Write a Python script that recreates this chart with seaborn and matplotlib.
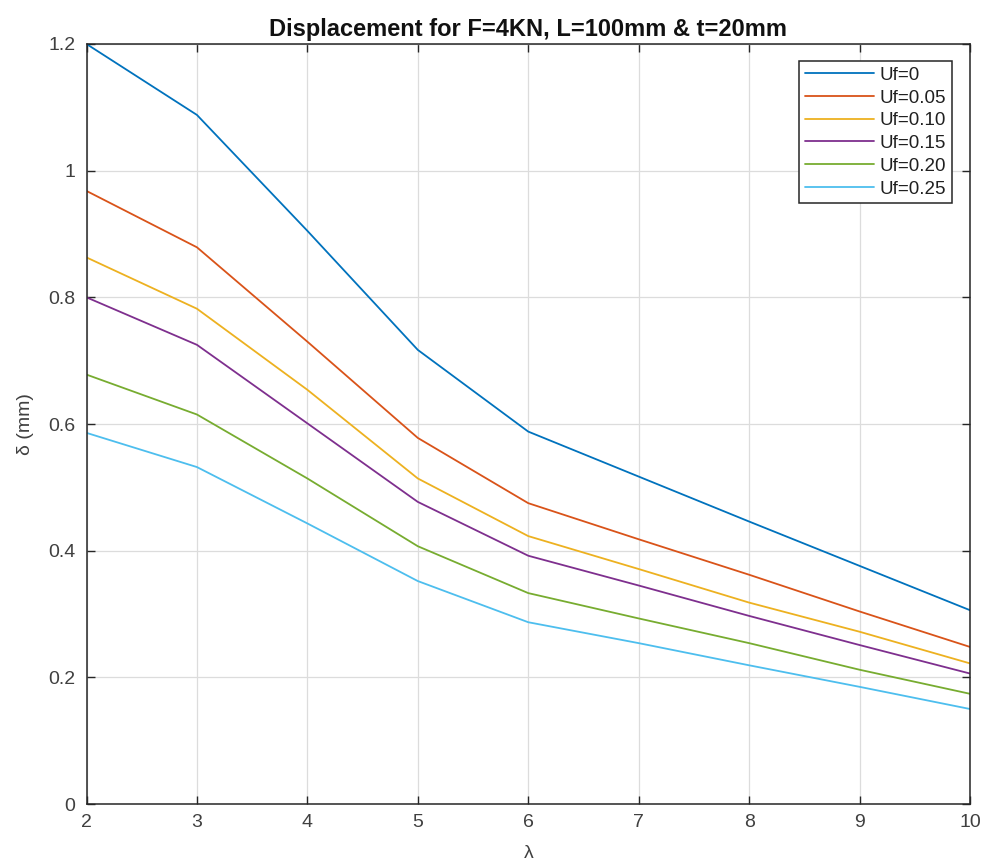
import numpy as np
import pandas as pd
import matplotlib
matplotlib.use("Agg")
import matplotlib.pyplot as plt
import seaborn as sns

lam = [2, 3, 4, 5, 6, 7, 8, 9, 10]
uf0 = [1.200, 1.088, 0.905, 0.717, 0.588, 0.517, 0.446, 0.376, 0.306]
uf005 = [0.968, 0.879, 0.730, 0.578, 0.475, 0.418, 0.362, 0.304, 0.248]
uf010 = [0.863, 0.782, 0.654, 0.514, 0.423, 0.371, 0.318, 0.272, 0.222]
uf015 = [0.800, 0.725, 0.601, 0.477, 0.392, 0.345, 0.297, 0.251, 0.206]
uf020 = [0.678, 0.615, 0.514, 0.407, 0.333, 0.293, 0.254, 0.212, 0.174]
uf025 = [0.586, 0.532, 0.443, 0.352, 0.287, 0.254, 0.219, 0.185, 0.150]
labels = ["Uf=0", "Uf=0.05", "Uf=0.10", "Uf=0.15", "Uf=0.20", "Uf=0.25"]
series = [uf0, uf005, uf010, uf015, uf020, uf025]
colors = ["#0072BD", "#D95319", "#EDB120", "#7E2F8E", "#77AC30", "#4DBEEE"]

rows = []
for lab, vals in zip(labels, series):
    for x, y in zip(lam, vals):
        rows.append({"lam": x, "delta": y, "Uf": lab})
df = pd.DataFrame(rows)

sns.set_style("white")
plt.rcParams['font.family'] = ['Liberation Sans', 'DejaVu Sans']

fig = plt.figure(figsize=(9.85, 8.63), dpi=100)
ax = fig.add_axes([86.5/985, 59/863, 883.5/985, 760/863])

sns.lineplot(data=df, x="lam", y="delta", hue="Uf", hue_order=labels,
             palette=colors, linewidth=1.3, ax=ax, legend=True)

ax.set_xlim(2, 10)
ax.set_ylim(0, 1.2)
ax.set_xticks(lam)
ax.set_xticklabels([str(v) for v in lam])
ax.set_yticks([0, 0.2, 0.4, 0.6, 0.8, 1.0, 1.2])
ax.set_yticklabels(["0", "0.2", "0.4", "0.6", "0.8", "1", "1.2"])
ax.grid(True, color="#dcdcdc", linewidth=0.9)
ax.set_axisbelow(True)
for s in ax.spines.values():
    s.set_visible(True)
    s.set_color("#262626")
    s.set_linewidth(1.1)
ax.tick_params(direction="in", length=6, width=1, colors="#262626",
               labelcolor="#404040", labelsize=14, top=True, right=True,
               bottom=True, left=True)
ax.tick_params(axis="x", pad=7.5)
ax.tick_params(axis="y", pad=8)

ax.set_xlabel("λ", fontsize=14, color="#404040", labelpad=10)
ax.set_ylabel("δ (mm)", fontsize=14, color="#404040", labelpad=10)
ax.set_title("Displacement for F=4KN, L=100mm & t=20mm", fontsize=17,
             fontweight="bold", color="#111111", pad=6)

leg = ax.legend(loc="upper right", bbox_to_anchor=(0.9796, 0.9776),
                frameon=True, fancybox=False, fontsize=13.5,
                handlelength=3.7, labelspacing=0.3, borderpad=0.3,
                handletextpad=0.3, borderaxespad=0)
leg.get_frame().set_edgecolor("#262626")
leg.get_frame().set_linewidth(1.1)
leg.get_frame().set_alpha(1)
for t in leg.get_texts():
    t.set_color("#202020")

fig.savefig("out.png", dpi=100)
